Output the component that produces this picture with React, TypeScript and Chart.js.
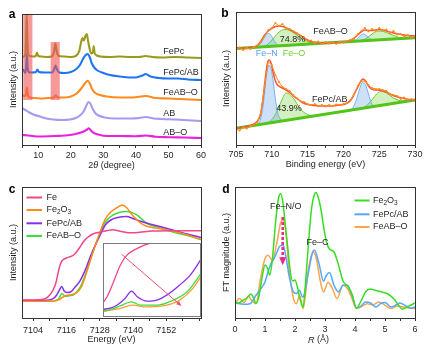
import React, { useEffect, useRef } from "react";
import { Chart, registerables } from "chart.js";

Chart.register(...registerables);

type P = [number, number];
type Part = { t: string; sub?: boolean; it?: boolean };

const FAM = '"Liberation Sans", Arial, Helvetica, sans-serif';
const TXT = "#231f20";
const AXC = "#333333";

// ================= (a) XRD =================
const xrdFePc: P[] = [[5, 88], [5.6, 88.5], [6.0, 90], [6.25, 105], [6.45, 130], [6.65, 105], [6.9, 90], [7.5, 89], [8.5, 88.5], [9.2, 89], [9.6, 92.5], [10.0, 89], [11, 88.5], [12.5, 88], [14.2, 88.5], [14.8, 93], [15.25, 101.5], [15.7, 93], [16.3, 89], [18, 88.5], [20, 88], [21.5, 89], [22.6, 94], [23.1, 102], [23.6, 107], [24.0, 104.5], [24.5, 109], [24.9, 111], [25.3, 104], [25.8, 96], [26.3, 91.5], [26.8, 93], [27.05, 99], [27.3, 92], [28, 89.5], [29, 88.5], [32, 88], [35, 88.5], [38, 88], [41, 88], [43, 89], [45, 88], [48, 87.5], [52, 88], [56, 87.5], [60, 87]];
const xrdFePcAB: P[] = [[5, 76], [5.6, 74.5], [6.0, 72], [6.3, 78], [6.5, 91.5], [6.7, 79], [7.0, 73], [8.0, 72.5], [9.3, 73], [9.7, 75.5], [10.2, 73], [12, 72.5], [14.3, 72.5], [14.9, 76], [15.3, 79.5], [15.7, 76], [16.4, 72.5], [18, 72], [20, 73], [21.5, 75.5], [22.8, 80], [23.8, 86.5], [24.6, 90], [25.2, 91], [25.8, 88], [26.4, 82], [27.2, 77.5], [28.2, 74.5], [30, 72], [32, 70], [35, 68.5], [38, 67.5], [40, 67.5], [42, 69.5], [43, 71], [44.5, 68.5], [47, 67], [50, 66.5], [53, 66.5], [56, 65.5], [60, 65]];
const xrdFeABO: P[] = [[5, 50], [5.7, 49], [6.2, 50], [6.5, 57.5], [6.8, 50], [7.3, 47.5], [9, 47], [11, 46.5], [13, 47], [14.8, 47.5], [15.4, 49.5], [16.0, 47.5], [18, 47.5], [20, 48.5], [21.8, 51.5], [23.2, 56.5], [24.3, 61.5], [25.2, 64.3], [25.9, 61], [26.6, 55.5], [27.5, 52], [29, 50], [31, 48.5], [35, 47.5], [39, 47.5], [43, 49], [46, 47], [50, 46.5], [55, 45.8], [60, 45]];
const xrdAB: P[] = [[5, 37], [6, 35], [7, 33], [8.5, 30.5], [10.5, 28.5], [12.5, 26.5], [14.6, 25.5], [17, 25], [19.7, 25.5], [21.5, 27], [22.8, 29.5], [23.8, 33], [24.6, 38], [25.4, 43], [26.0, 41.5], [26.6, 37], [27.5, 32], [28.5, 29.5], [30.5, 27.5], [32, 26.7], [35, 26.5], [38.5, 26.5], [41, 27], [43, 28], [45.5, 26.5], [48, 26], [52, 25.5], [56, 24.8], [60, 24]];
const xrdABO: P[] = [[5, 10], [7, 9.5], [10.5, 8.5], [15, 9], [19.7, 10], [22, 11.5], [23.8, 13.3], [25.0, 15.5], [25.5, 16.7], [26.2, 14.5], [26.9, 12.3], [28.5, 10.5], [31, 9], [35, 9], [40, 8.8], [43, 9.5], [46, 8.3], [50, 7.8], [55, 7.5], [60, 7]];
const xrdBands: [number, number, number, number][] = [[5.4, 8.2, 45, 130], [13.8, 16.6, 45, 103]];
const xrdNames = ["FePc", "FePc/AB", "FeAB\u2013O", "AB", "AB\u2013O"];
const xrdTicks = [5, 10, 15, 20, 25, 30, 35, 40, 45, 50, 55, 60];

// ================= (b) XPS =================
const xpsTopBg: P[] = [[705, 96.5], [730, 107.3]];
const xpsTopFeN: P[] = [[707.5, 97.6], [708.0, 98.6], [708.5, 102], [709.0, 108], [709.4, 111.7], [709.8, 110.5], [710.2, 106], [710.6, 101.5], [711.0, 99.6], [711.5, 99.3]];
const xpsTopFeO: P[] = [[708.5, 98.0], [709.2, 99.6], [709.8, 103], [710.5, 109], [711.2, 114], [711.8, 115.5], [712.5, 114.5], [713.2, 111.5], [714, 107.5], [714.8, 104], [715.6, 102], [716.5, 101.5]];
const xpsTopFeN2: P[] = [[721.3, 103.5], [721.8, 105.5], [722.3, 109], [722.8, 111], [723.3, 109], [723.8, 106], [724.3, 104.8]];
const xpsTopFeO2: P[] = [[721.5, 103.6], [722.5, 104.6], [723.3, 107], [724, 111], [724.8, 114], [725.6, 113.5], [726.5, 111], [727.4, 108.5], [728.3, 107], [729.2, 107], [730, 107.3]];
const xpsTopFit: P[] = [[705, 96.5], [706, 96.9], [707, 97.4], [707.5, 98], [708, 99.5], [708.5, 104], [709, 110], [709.5, 114], [710, 116.5], [710.5, 118.5], [711, 119], [711.5, 118.5], [712, 117], [712.5, 115.5], [713, 113.5], [713.5, 111.5], [714, 109.5], [714.5, 107], [715, 105], [715.5, 103.5], [716, 103], [717, 102.2], [718, 102], [719, 102.5], [720, 103], [720.5, 103.8], [721, 105], [721.5, 107], [722, 110], [722.5, 113], [723, 115], [723.5, 114.5], [724, 114.5], [724.5, 115], [725, 115.5], [725.5, 115], [726, 114], [727, 112], [728, 110.5], [729, 109.5], [730, 109]];
const xpsTopData: P[] = [[705, 96], [705.5, 97.5], [706, 95], [706.5, 97], [707, 96], [707.5, 98], [708, 100], [708.5, 103], [709, 109], [709.5, 115], [710, 117], [710.5, 122], [711, 119], [711.5, 121], [712, 117], [712.5, 116], [713, 114], [713.5, 112], [714, 109], [714.5, 108], [715, 104], [715.5, 104.5], [716, 102], [716.5, 103.5], [717, 101], [717.5, 103], [718, 101.5], [718.5, 102.5], [719, 101], [719.5, 103.5], [720, 102.5], [720.5, 104], [721, 105], [721.5, 106], [722, 111], [722.5, 114], [723, 117], [723.5, 113.5], [724, 116], [724.5, 114], [725, 117], [725.5, 114.5], [726, 115.5], [726.5, 112], [727, 114], [727.5, 110.5], [728, 111], [728.5, 108], [729, 110], [729.5, 107.5], [730, 109]];
const xpsBotBg: P[] = [[705, 16.7], [730, 45]];
const xpsBotFeN: P[] = [[707.5, 19.5], [708.0, 21], [708.4, 25], [708.8, 40], [709.1, 60], [709.4, 76], [709.6, 80], [709.9, 76], [710.2, 63], [710.5, 46], [710.8, 33], [711.2, 26], [711.6, 24.4], [712, 24.6]];
const xpsBotFeO: P[] = [[709.0, 21.2], [709.6, 23], [710.2, 27], [710.8, 35], [711.4, 45], [712.0, 52], [712.6, 50], [713.2, 45], [713.8, 38], [714.4, 33], [715.0, 30.5], [715.6, 29.3], [716.2, 29.6], [717.0, 30.3]];
const xpsBotFeN2: P[] = [[720.8, 34.6], [721.3, 37], [721.8, 45], [722.3, 57], [722.7, 63], [723.1, 60], [723.5, 51], [723.9, 42], [724.3, 39.5], [724.8, 39.2]];
const xpsBotFeO2: P[] = [[722.0, 35.9], [722.8, 37.5], [723.5, 41], [724.2, 47], [724.8, 52], [725.3, 53.5], [726.0, 52], [726.8, 48], [727.6, 45], [728.4, 44], [729.2, 44.7], [730, 45]];
const xpsBotFit: P[] = [[705, 16.7], [706, 17.8], [707, 19.5], [707.5, 21], [708.0, 24], [708.4, 30], [708.8, 48], [709.1, 67], [709.4, 82], [709.6, 85], [709.9, 82], [710.2, 72], [710.5, 64], [710.8, 60], [711.2, 58], [711.6, 56.5], [712.0, 55], [712.6, 52], [713.2, 48], [713.8, 45], [714.4, 42], [715.0, 40.5], [716, 39.5], [717, 39], [718, 39], [719, 39.5], [720, 40.5], [720.8, 43], [721.3, 48], [721.8, 55], [722.3, 62], [722.7, 66], [723.1, 64], [723.5, 59], [723.9, 56], [724.3, 55], [724.8, 55], [725.3, 54.5], [726, 53], [726.8, 50], [727.6, 48], [728.4, 46.5], [729.2, 45.5], [730, 45]];
const xpsBotData: P[] = [[705, 16], [705.5, 14.5], [706, 17.5], [706.5, 16.5], [707, 19], [707.5, 20], [708, 23], [708.5, 33], [709, 60], [709.5, 83], [710, 80], [710.5, 70], [711, 63], [711.5, 58], [712, 56], [712.5, 54], [713, 50], [713.5, 47], [714, 44], [714.5, 43], [715, 41], [715.5, 40], [716, 41], [716.5, 39], [717, 40], [717.5, 38.5], [718, 40], [718.5, 39], [719, 40.5], [719.5, 40], [720, 41], [720.5, 42], [721, 45], [721.5, 51], [722, 59], [722.5, 64], [723, 64], [723.5, 60], [724, 57], [724.5, 56], [725, 56], [725.5, 55], [726, 54], [726.5, 51], [727, 50], [727.5, 49], [728, 46], [728.5, 47.5], [729, 45], [729.5, 46], [730, 44.5]];
const xpsTicks = [705, 707.5, 710, 712.5, 715, 717.5, 720, 722.5, 725, 727.5, 730];
const xpsNotes = ["FeAB\u2013O", "74.8%", "Fe\u2013N", "Fe\u2013O", "FePc/AB", "43.9%"];

// ================= (c) XANES =================
const xanFe: P[] = [[7100, 18], [7106, 18.3], [7108.5, 19.5], [7110, 23], [7111.2, 28], [7112.2, 35], [7113, 45], [7113.7, 53], [7114.5, 57.5], [7116, 60], [7117.5, 61.5], [7118.6, 63], [7119.6, 66], [7120.8, 70.5], [7122.2, 76.5], [7123.6, 80.5], [7125.5, 84], [7128, 85.8], [7130.5, 87.2], [7132.8, 88.3], [7135, 87], [7137.6, 85.6], [7140, 85.3], [7142.4, 85.8], [7147, 87], [7154.5, 87.3], [7164.5, 87.3]];
const xanFe2O3: P[] = [[7100, 16.7], [7110, 16.7], [7113, 18], [7114.8, 21], [7116, 22.5], [7118, 23.5], [7119.5, 25], [7121.4, 31], [7123.2, 45], [7125.6, 66], [7128, 85], [7130, 99], [7132, 106], [7134, 110], [7136.2, 113], [7137.8, 110], [7140, 102], [7143.6, 93.3], [7146, 91], [7148.5, 90], [7154.5, 86.7], [7159.3, 83.3], [7164.5, 78.5]];
const xanFePcAB: P[] = [[7100, 17.5], [7108, 17.6], [7111.2, 19.3], [7112.5, 23], [7113.5, 28], [7114.3, 31.5], [7115.2, 27], [7116.2, 25.5], [7117.5, 26], [7119, 30.5], [7120.8, 36.6], [7122.6, 46.6], [7125, 64], [7128, 82], [7130, 93], [7132, 98], [7134.5, 100.5], [7137.6, 101.5], [7140, 99.5], [7142.4, 97], [7146, 94], [7149.7, 91.6], [7155.7, 86.7], [7160.5, 83.3], [7164.5, 80.5]];
const xanFeABO: P[] = [[7100, 16.7], [7110, 16.7], [7113, 18.3], [7114.4, 24.5], [7115.6, 21.7], [7117, 22.3], [7118.4, 23], [7120.8, 30], [7122.6, 41.6], [7125, 61.6], [7128, 84], [7130, 96], [7132.8, 103], [7135, 105.5], [7137.6, 106.6], [7141.2, 103.3], [7144.8, 95], [7149.7, 90], [7155.7, 85], [7160.5, 81.6], [7164.5, 78.5]];
const insFe: P[] = [[7110, 14], [7110.5, 20], [7111.3, 35], [7112.1, 51], [7112.9, 61], [7114.2, 68], [7115.8, 73.3], [7118, 76], [7122, 78]];
const insFePcAB: P[] = [[7110, 7.5], [7111, 9], [7111.7, 11.7], [7112.7, 18.3], [7113.5, 25.7], [7114.2, 20], [7115.4, 15.7], [7116.6, 16.7], [7117.8, 21.7], [7119.4, 31.7], [7120.7, 41.7], [7122, 57]];
const insFeABO: P[] = [[7110, 5.5], [7111, 7.5], [7112.1, 11], [7113.5, 15], [7114.6, 11.7], [7116.6, 11.7], [7118.6, 16.7], [7120.3, 25], [7122, 43]];
const insFe2O3: P[] = [[7110, 6], [7112, 8.3], [7113.6, 11.7], [7115.4, 10], [7117.8, 11.7], [7119.4, 16.7], [7121, 28.3], [7122, 40]];
const insArrow: P[] = [[7112.3, 62], [7119.6, 11]];
const xanTicks = [7104, 7110, 7116, 7122, 7128, 7134, 7140, 7146, 7152, 7158, 7164];

// ================= (d) EXAFS =================
const ftFe2O3: P[] = [[0, 16], [0.12, 15], [0.25, 17.5], [0.4, 20], [0.53, 24], [0.62, 20], [0.7, 14.5], [0.8, 22], [0.9, 40], [1.0, 53], [1.08, 50], [1.16, 43], [1.25, 60], [1.35, 95], [1.45, 120], [1.52, 124.3], [1.6, 115], [1.68, 92], [1.76, 70], [1.85, 45], [1.92, 37], [2.0, 38], [2.08, 31], [2.16, 20], [2.27, 11], [2.35, 35], [2.45, 75], [2.55, 109], [2.63, 122], [2.7, 125.4], [2.78, 120], [2.87, 108], [2.95, 92], [3.05, 76], [3.15, 69], [3.3, 66], [3.45, 53], [3.6, 37], [3.75, 32], [3.9, 24], [4.05, 10], [4.2, 17], [4.35, 26], [4.5, 29], [4.7, 27.5], [4.9, 26], [5.1, 24], [5.3, 19], [5.45, 13], [5.58, 8.7], [5.72, 11], [5.85, 12.7], [6.0, 15]];
const ftFePcAB: P[] = [[0, 15], [0.3, 13.7], [0.5, 14.3], [0.7, 22.7], [0.9, 31], [1.0, 36], [1.1, 46], [1.2, 54.4], [1.3, 59.4], [1.4, 66], [1.5, 72], [1.6, 72.7], [1.7, 61], [1.8, 42.7], [1.95, 26], [2.05, 24.4], [2.15, 27.7], [2.25, 21], [2.3, 22.7], [2.45, 46], [2.6, 66.7], [2.65, 67.7], [2.8, 54.4], [2.95, 36.7], [3.05, 42.7], [3.15, 45.4], [3.3, 32.7], [3.45, 26], [3.6, 32.7], [3.75, 32.7], [3.9, 22.7], [4.05, 10], [4.2, 12], [4.35, 16], [4.5, 15.4], [4.7, 11], [4.85, 14.3], [5.0, 15.4], [5.2, 11], [5.35, 12.7], [5.5, 15], [5.7, 12], [5.85, 10], [6.0, 11]];
const ftFeABO: P[] = [[0, 14.3], [0.15, 19.4], [0.3, 15.4], [0.45, 22], [0.55, 17.7], [0.7, 14.3], [0.85, 39.4], [1.0, 59.4], [1.1, 62.7], [1.25, 57.7], [1.4, 76], [1.52, 95], [1.6, 97.7], [1.7, 84.4], [1.8, 49.4], [1.95, 19.4], [2.05, 14.3], [2.15, 22.7], [2.27, 9.4], [2.45, 49.4], [2.6, 66], [2.7, 61], [2.85, 36], [2.95, 26], [3.1, 35.4], [3.25, 29.4], [3.4, 19.4], [3.6, 32.7], [3.75, 29.4], [3.9, 19.4], [4.05, 9.4], [4.2, 11], [4.4, 14.3], [4.6, 13.3], [4.8, 16], [5.0, 12.7], [5.2, 9.4], [5.4, 12], [5.6, 11], [5.8, 10], [6.0, 9.4]];
const ftArrow: P[] = [[1.59, 101], [1.59, 52.7]];
const ftTicks = [0, 0.5, 1, 1.5, 2, 2.5, 3, 3.5, 4, 4.5, 5, 5.5, 6];

// ================= helpers =================
const pts = (a: P[]) => a.map(([x, y]) => ({ x, y }));

function lineDs(data: P[], color: string, width: number, extra: any = {}) {
  return {
    data: pts(data),
    borderColor: color,
    backgroundColor: color,
    borderWidth: width,
    pointRadius: 0,
    cubicInterpolationMode: "monotone",
    borderJoinStyle: "round",
    fill: false,
    ...extra,
  };
}

function drawRich(ctx: any, parts: Part[], x: number, y: number, size: number, color: string, align = "left") {
  ctx.save();
  ctx.fillStyle = color;
  ctx.textBaseline = "middle";
  ctx.textAlign = "left";
  const fontOf = (p: Part) => `${p.it ? "italic " : ""}${p.sub ? size * 0.72 : size}px ${FAM}`;
  let total = 0;
  for (const p of parts) {
    ctx.font = fontOf(p);
    total += ctx.measureText(p.t).width;
  }
  let cx = align === "center" ? x - total / 2 : x;
  for (const p of parts) {
    ctx.font = fontOf(p);
    ctx.fillText(p.t, cx, y + (p.sub ? size * 0.3 : 0));
    cx += ctx.measureText(p.t).width;
  }
  ctx.restore();
}

function drawFrame(chart: any, letter: string, lx: number, ly: number) {
  const { ctx, chartArea: a } = chart;
  ctx.save();
  ctx.strokeStyle = AXC;
  ctx.lineWidth = 1;
  ctx.strokeRect(Math.round(a.left) + 0.5, Math.round(a.top) + 0.5, Math.round(a.right - a.left), Math.round(a.bottom - a.top));
  ctx.fillStyle = "#000";
  ctx.font = `bold 12px ${FAM}`;
  ctx.textAlign = "center";
  ctx.textBaseline = "middle";
  ctx.fillText(letter, lx, ly);
  ctx.restore();
}

function xAxis(min: number, max: number, ticks: number[], show: (v: number) => boolean, height: number, pad: number, title?: string) {
  return {
    type: "linear",
    position: "bottom",
    min,
    max,
    afterBuildTicks: (s: any) => {
      s.ticks = ticks.map((v) => ({ value: v }));
    },
    afterFit: (s: any) => {
      s.height = height;
    },
    ticks: {
      autoSkip: false,
      maxRotation: 0,
      minRotation: 0,
      padding: pad,
      color: TXT,
      font: { family: FAM, size: 9 },
      callback: (v: any) => (show(Number(v)) ? String(v) : ""),
    },
    grid: { display: true, drawOnChartArea: false, drawTicks: true, tickLength: 3, tickWidth: 1, tickColor: AXC, color: AXC },
    border: { display: false },
    title: title
      ? { display: true, text: title, color: TXT, font: { family: FAM, size: 9 }, padding: { top: 0, bottom: 4.6 } }
      : { display: false },
  };
}

function yAxis(max: number, width: number, title: string, pt: number) {
  return {
    type: "linear",
    position: "left",
    min: 0,
    max,
    afterFit: (s: any) => {
      s.width = width;
    },
    ticks: { display: false },
    grid: { display: false },
    border: { display: false },
    title: { display: true, text: title, color: TXT, font: { family: FAM, size: 9 }, padding: { top: pt, bottom: 0 } },
  };
}

function baseOptions(x: any, y: any, padRight: number, padTop: number) {
  return {
    responsive: false,
    maintainAspectRatio: false,
    animation: false,
    devicePixelRatio: 1,
    events: [],
    layout: { padding: { left: 0, right: padRight, top: padTop, bottom: 0 } },
    plugins: { legend: { display: false }, tooltip: { enabled: false } },
    scales: { x, y },
  };
}

// ================= configs =================
function configA(): any {
  const colors = ["#9c9a1e", "#1f74f2", "#ff8a1f", "#a69bf2", "#ec21de"];
  const series = [xrdFePc, xrdFePcAB, xrdFeABO, xrdAB, xrdABO];
  const labelX = 48.4;
  const labelY = [93, 72.5, 52.3, 31, 12.5];
  return {
    type: "line",
    data: { datasets: series.map((s, i) => lineDs(s, colors[i], 2.1)) },
    options: baseOptions(
      xAxis(5, 60, xrdTicks, (v) => v % 10 === 0, 30, 2),
      yAxis(131, 22, "Intensity (a.u.)", 7.9),
      13,
      14
    ),
    plugins: [
      {
        id: "a-anno",
        afterDatasetsDraw(chart: any) {
          const { ctx, scales } = chart;
          const sx = scales.x, sy = scales.y;
          ctx.save();
          ctx.fillStyle = "rgba(238, 84, 84, 0.6)";
          for (const [x0, x1, y0, y1] of xrdBands) {
            const px0 = sx.getPixelForValue(x0), px1 = sx.getPixelForValue(x1);
            const py0 = sy.getPixelForValue(y1), py1 = sy.getPixelForValue(y0);
            ctx.fillRect(px0, py0, px1 - px0, py1 - py0);
          }
          ctx.font = `9px ${FAM}`;
          ctx.fillStyle = TXT;
          ctx.textBaseline = "middle";
          ctx.textAlign = "left";
          xrdNames.forEach((n, i) => ctx.fillText(n, sx.getPixelForValue(labelX), sy.getPixelForValue(labelY[i])));
          ctx.restore();
        },
        afterDraw(chart: any) {
          drawFrame(chart, "a", 12, 15);
          const a = chart.chartArea;
          drawRich(chart.ctx, [{ t: "2" }, { t: "\u03b8", it: true }, { t: " (degree)" }], (a.left + a.right) / 2, 165.7, 9, TXT, "center");
        },
      },
    ],
  };
}

function configB(): any {
  const blue = "#78b2f0", blueFill = "rgba(110, 170, 235, 0.35)";
  const green = "#62cc2c", greenFill = "rgba(140, 215, 90, 0.38)";
  const bg = "#52c41a", fit = "#f4533e", dat = "#ff8c1a";
  const comp = (d: P[], c: string, f: string, target: number) => lineDs(d, c, 1, { fill: { target }, backgroundColor: f, order: 10 });
  const datasets = [
    lineDs(xpsTopBg, bg, 3, { order: 8 }),
    comp(xpsTopFeN, blue, blueFill, 0),
    comp(xpsTopFeO, green, greenFill, 0),
    comp(xpsTopFeN2, blue, blueFill, 0),
    comp(xpsTopFeO2, green, greenFill, 0),
    lineDs(xpsTopFit, fit, 1.5, { order: 5 }),
    lineDs(xpsTopData, dat, 1, { order: 4, cubicInterpolationMode: "default", tension: 0, pointRadius: 1, pointBorderWidth: 0, pointBackgroundColor: dat }),
    lineDs(xpsBotBg, bg, 3, { order: 8 }),
    comp(xpsBotFeN, blue, blueFill, 7),
    comp(xpsBotFeO, green, greenFill, 7),
    comp(xpsBotFeN2, blue, blueFill, 7),
    comp(xpsBotFeO2, green, greenFill, 7),
    lineDs(xpsBotFit, fit, 1.5, { order: 5 }),
    lineDs(xpsBotData, dat, 1, { order: 4, cubicInterpolationMode: "default", tension: 0, pointRadius: 1, pointBorderWidth: 0, pointBackgroundColor: dat }),
  ];
  const notePos: P[] = [[718.2, 113.3], [712.9, 105.5], [709.3, 91.7], [713.1, 91.5], [718.1, 45], [712.4, 36.5]];
  const noteCol = [TXT, TXT, "#5b9ff0", "#6ccf2e", TXT, TXT];
  return {
    type: "line",
    data: { datasets },
    options: baseOptions(
      xAxis(705, 730, xpsTicks, (v) => v % 5 === 0, 30, 1, "Binding energy (eV)"),
      yAxis(133, 22, "Intensity (a.u.)", 7.3),
      14,
      12
    ),
    plugins: [
      {
        id: "b-anno",
        afterDatasetsDraw(chart: any) {
          const { ctx, scales } = chart;
          ctx.save();
          ctx.font = `9px ${FAM}`;
          ctx.textAlign = "center";
          ctx.textBaseline = "middle";
          xpsNotes.forEach((n, i) => {
            ctx.fillStyle = noteCol[i];
            ctx.fillText(n, scales.x.getPixelForValue(notePos[i][0]), scales.y.getPixelForValue(notePos[i][1]));
          });
          ctx.restore();
        },
        afterDraw(chart: any) {
          drawFrame(chart, "b", 11, 14);
        },
      },
    ],
  };
}

function configC(): any {
  const colors = ["#f2468a", "#ff8c1a", "#8a2ee8", "#40dd3a"];
  const series = [xanFe, xanFe2O3, xanFePcAB, xanFeABO];
  const names: Part[][] = [
    [{ t: "Fe" }],
    [{ t: "Fe" }, { t: "2", sub: true }, { t: "O" }, { t: "3", sub: true }],
    [{ t: "FePc/AB" }],
    [{ t: "FeAB\u2013O" }],
  ];
  const rows = [10.5, 23, 36.3, 49];
  return {
    type: "line",
    data: { datasets: series.map((s, i) => lineDs(s, colors[i], 1.5)) },
    options: baseOptions(
      xAxis(7100, 7164.5, xanTicks, (v) => (v - 7104) % 12 === 0 && v <= 7152, 32, 4, "Energy (eV)"),
      yAxis(131, 22, "Intensity (a.u.)", 7.9),
      13,
      12
    ),
    plugins: [
      {
        id: "c-legend",
        afterDatasetsDraw(chart: any) {
          const { ctx, chartArea: a } = chart;
          names.forEach((parts, i) => {
            const y = a.top + rows[i];
            ctx.save();
            ctx.strokeStyle = colors[i];
            ctx.lineWidth = 2;
            ctx.beginPath();
            ctx.moveTo(a.left + 4.5, y);
            ctx.lineTo(a.left + 20, y);
            ctx.stroke();
            ctx.restore();
            drawRich(ctx, parts, a.left + 24.5, y, 9, TXT);
          });
        },
        afterDraw(chart: any) {
          drawFrame(chart, "c", 12, 15);
        },
      },
    ],
  };
}

function configInset(): any {
  const colors = ["#f2468a", "#8a2ee8", "#40dd3a", "#ff9a3a"];
  const series = [insFe, insFePcAB, insFeABO, insFe2O3];
  return {
    type: "line",
    data: { datasets: series.map((s, i) => lineDs(s, colors[i], 1.3)) },
    options: {
      responsive: false,
      maintainAspectRatio: false,
      animation: false,
      devicePixelRatio: 1,
      events: [],
      layout: { padding: 0 },
      plugins: { legend: { display: false }, tooltip: { enabled: false } },
      scales: {
        x: { type: "linear", display: false, min: 7110, max: 7122 },
        y: { type: "linear", display: false, min: 0, max: 73.3 },
      },
    },
    plugins: [
      {
        id: "inset",
        beforeDraw(chart: any) {
          const { ctx, width, height } = chart;
          ctx.save();
          ctx.fillStyle = "#fff";
          ctx.fillRect(0, 0, width, height);
          ctx.restore();
        },
        afterDatasetsDraw(chart: any) {
          const { ctx, scales } = chart;
          const x0 = scales.x.getPixelForValue(insArrow[0][0]), y0 = scales.y.getPixelForValue(insArrow[0][1]);
          const x1 = scales.x.getPixelForValue(insArrow[1][0]), y1 = scales.y.getPixelForValue(insArrow[1][1]);
          const ang = Math.atan2(y1 - y0, x1 - x0);
          ctx.save();
          ctx.strokeStyle = "#f0506e";
          ctx.fillStyle = "#f0506e";
          ctx.lineWidth = 1;
          ctx.beginPath();
          ctx.moveTo(x0, y0);
          ctx.lineTo(x1 - 3 * Math.cos(ang), y1 - 3 * Math.sin(ang));
          ctx.stroke();
          ctx.beginPath();
          ctx.moveTo(x1, y1);
          ctx.lineTo(x1 - 5 * Math.cos(ang) + 2.2 * Math.sin(ang), y1 - 5 * Math.sin(ang) - 2.2 * Math.cos(ang));
          ctx.lineTo(x1 - 5 * Math.cos(ang) - 2.2 * Math.sin(ang), y1 - 5 * Math.sin(ang) + 2.2 * Math.cos(ang));
          ctx.closePath();
          ctx.fill();
          ctx.restore();
        },
        afterDraw(chart: any) {
          const { ctx, width, height } = chart;
          ctx.save();
          ctx.strokeStyle = "#7a7a7a";
          ctx.lineWidth = 1;
          ctx.strokeRect(0.5, 0.5, width - 1, height - 1);
          ctx.restore();
        },
      },
    ],
  };
}

function configD(): any {
  const colors = ["#36de22", "#55a8ff", "#ffa448"];
  const series = [ftFe2O3, ftFePcAB, ftFeABO];
  const names: Part[][] = [
    [{ t: "Fe" }, { t: "2", sub: true }, { t: "O" }, { t: "3", sub: true }],
    [{ t: "FePc/AB" }],
    [{ t: "FeAB\u2013O" }],
  ];
  const rows = [13.5, 27.3, 40];
  return {
    type: "line",
    data: { datasets: series.map((s, i) => lineDs(s, colors[i], 1.5)) },
    options: baseOptions(
      xAxis(0, 6, ftTicks, (v) => Number.isInteger(v), 32, 2.7),
      yAxis(131, 21, "FT magnitude (a.u.)", 7.3),
      14,
      12
    ),
    plugins: [
      {
        id: "d-anno",
        afterDatasetsDraw(chart: any) {
          const { ctx, chartArea: a, scales } = chart;
          const sx = scales.x, sy = scales.y;
          names.forEach((parts, i) => {
            const y = a.top + rows[i];
            ctx.save();
            ctx.strokeStyle = colors[i];
            ctx.lineWidth = 2;
            ctx.beginPath();
            ctx.moveTo(a.left + 119.5, y);
            ctx.lineTo(a.left + 134.5, y);
            ctx.stroke();
            ctx.restore();
            drawRich(ctx, parts, a.left + 138, y, 9, TXT);
          });
          const ax = sx.getPixelForValue(ftArrow[0][0]);
          const ay0 = sy.getPixelForValue(ftArrow[0][1]);
          const ay1 = sy.getPixelForValue(ftArrow[1][1]);
          ctx.save();
          ctx.strokeStyle = "#f3278d";
          ctx.fillStyle = "#f3278d";
          ctx.lineWidth = 2.6;
          ctx.setLineDash([3, 2]);
          ctx.beginPath();
          ctx.moveTo(ax, ay0);
          ctx.lineTo(ax, ay1 - 7);
          ctx.stroke();
          ctx.setLineDash([]);
          ctx.beginPath();
          ctx.moveTo(ax - 3.5, ay1 - 8);
          ctx.lineTo(ax + 3.5, ay1 - 8);
          ctx.lineTo(ax, ay1);
          ctx.closePath();
          ctx.fill();
          ctx.restore();
          ctx.save();
          ctx.font = `9px ${FAM}`;
          ctx.fillStyle = TXT;
          ctx.textAlign = "center";
          ctx.textBaseline = "middle";
          ctx.fillText("Fe\u2013N/O", sx.getPixelForValue(1.69), sy.getPixelForValue(111));
          ctx.fillText("Fe\u2013C", sx.getPixelForValue(2.75), sy.getPixelForValue(75));
          ctx.restore();
        },
        afterDraw(chart: any) {
          drawFrame(chart, "d", 12, 14.5);
          const a = chart.chartArea;
          drawRich(chart.ctx, [{ t: "R", it: true }, { t: " (\u00c5)" }], a.left + 83.5, 165, 9, TXT, "center");
        },
      },
    ],
  };
}

export default function App() {
  const ra = useRef<HTMLCanvasElement>(null);
  const rb = useRef<HTMLCanvasElement>(null);
  const rc = useRef<HTMLCanvasElement>(null);
  const rci = useRef<HTMLCanvasElement>(null);
  const rd = useRef<HTMLCanvasElement>(null);

  useEffect(() => {
    const charts = [
      new Chart(ra.current as any, configA()),
      new Chart(rb.current as any, configB()),
      new Chart(rc.current as any, configC()),
      new Chart(rd.current as any, configD()),
      new Chart(rci.current as any, configInset()),
    ];
    return () => charts.forEach((c) => c.destroy());
  }, []);

  const cv = (left: number, top: number, w: number, h: number): any => ({
    position: "absolute",
    left,
    top,
    width: w,
    height: h,
    display: "block",
  });

  return (
    <div style={{ position: "absolute", left: 0, top: 0, width: 429, height: 350, background: "#fff", overflow: "hidden" }}>
      <canvas ref={ra} width={214} height={175} style={cv(0, 0, 214, 175)} />
      <canvas ref={rb} width={215} height={175} style={cv(214, 0, 215, 175)} />
      <canvas ref={rc} width={214} height={175} style={cv(0, 175, 214, 175)} />
      <canvas ref={rd} width={215} height={175} style={cv(214, 175, 215, 175)} />
      <canvas ref={rci} width={98} height={74} style={cv(103, 243, 98, 74)} />
    </div>
  );
}
